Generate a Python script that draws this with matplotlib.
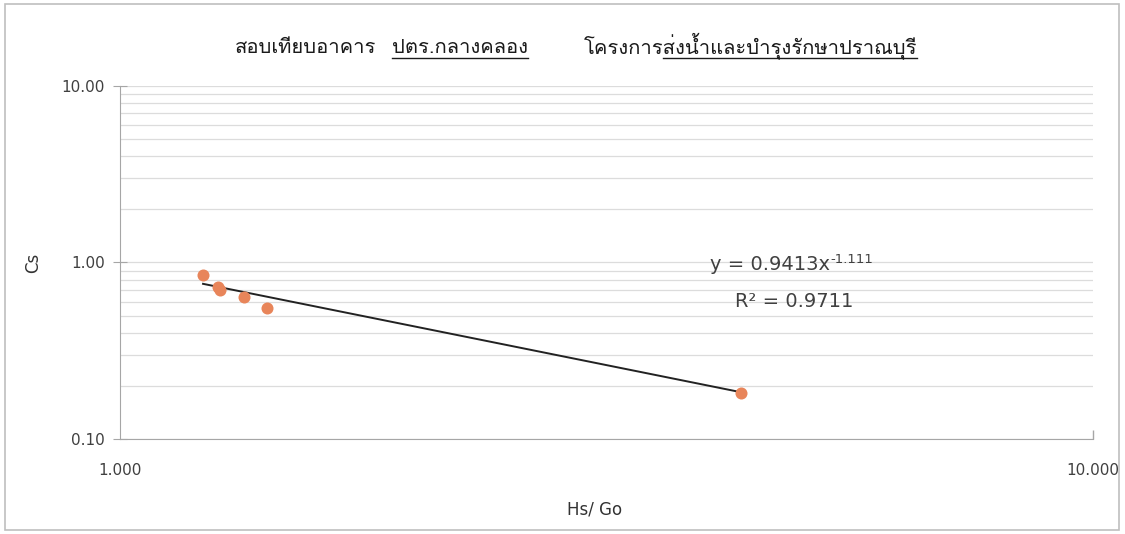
import numpy as np
import matplotlib
matplotlib.use("Agg")
import matplotlib.pyplot as plt
from matplotlib import font_manager
from matplotlib.ft2font import FT2Font
from matplotlib.patches import Rectangle
from matplotlib.lines import Line2D

# data
hs_go = [1.217, 1.262, 1.266, 1.341, 1.416, 4.347]
cs = [0.844, 0.728, 0.700, 0.641, 0.549, 0.183]
fit_a = 0.9413
fit_b = -1.111
r2 = 0.9711

title_1 = "สอบเทียบอาคาร"
title_2 = "ปตร.กลางคลอง"
title_3a = "โครงการ"
title_3b = "ส่งน้ำและบำรุงรักษาปราณบุรี"

# find a font that can draw Thai
thai_font = None
for f in font_manager.fontManager.ttflist:
    try:
        if 0x0E2A in FT2Font(f.fname).get_charmap():
            thai_font = f.name
            break
    except Exception:
        pass
fam = [thai_font, "DejaVu Sans"] if thai_font else ["DejaVu Sans"]

fig = plt.figure(figsize=(11.25, 5.34), dpi=100)
fig.patches.append(Rectangle((0.004, 0.008), 0.991, 0.985, transform=fig.transFigure,
                             fill=False, edgecolor="#bfbfbf", linewidth=1.2))
ax = fig.add_axes([0.1067, 0.178, 0.865, 0.661])

ax.set_xscale("log")
ax.set_yscale("log")
ax.set_xlim(1, 10)
ax.set_ylim(0.1, 10)

ax.grid(True, which="both", axis="y", color="#dcdcdc", linewidth=0.9)
ax.set_axisbelow(True)

xs = np.linspace(min(hs_go), max(hs_go), 50)
ax.plot(xs, fit_a * xs ** fit_b, color="#222222", linewidth=1.4, zorder=2)
ax.scatter(hs_go, cs, s=75, color="#E8855A", zorder=3, linewidths=0)

ax.set_xticks([1, 10])
ax.set_xticklabels(["1.000", "10.000"])
ax.xaxis.set_minor_locator(matplotlib.ticker.NullLocator())
ax.set_yticks([0.1, 1, 10])
ax.set_yticklabels(["0.10", "1.00", "10.00"])
ax.yaxis.set_minor_formatter(matplotlib.ticker.NullFormatter())
ax.tick_params(axis="y", which="minor", length=0)
ax.tick_params(axis="y", which="major", direction="inout", length=10, color="#a6a6a6",
               labelsize=11, labelcolor="#404040", pad=6)
ax.tick_params(axis="x", which="major", direction="in", length=0, color="#a6a6a6",
               labelsize=11, labelcolor="#404040", pad=17)

for s in ["top", "right"]:
    ax.spines[s].set_visible(False)
for s in ["left", "bottom"]:
    ax.spines[s].set_color("#a6a6a6")
ax.vlines(10, 0.1, 0.112, color="#a6a6a6", linewidth=1, clip_on=False)

ax.set_xlabel("Hs/ Go", fontsize=12, color="#333333")
ax.xaxis.set_label_coords(0.488, -0.175)
ax.set_ylabel("Cs", fontsize=12, color="#333333", labelpad=14)

fig.canvas.draw()
renderer = fig.canvas.get_renderer()

# trendline label, exponent as a separate small text
eq = ax.text(0.606, 0.493, "y = 0.9413x", transform=ax.transAxes,
             fontsize=14, color="#404040", va="center")
bb = eq.get_window_extent(renderer)
fig.text(bb.x1 + 1, bb.y1 - 4, "-1.111", transform=None, fontsize=9.5,
         color="#404040", va="center")
ax.text(0.632, 0.388, "R² = %.4f" % r2, transform=ax.transAxes,
        fontsize=14, color="#404040", va="center")

# title built piece by piece so parts can be underlined
base = 534 - 53
uline = 534 - 58
kw = dict(transform=None, fontsize=14.5, family=fam, color="#1a1a1a",
          va="baseline", ha="left")
t1 = fig.text(0, base, title_1, **kw)
t2 = fig.text(0, base, title_2, **kw)
t3 = fig.text(0, base, title_3a + title_3b, **kw)
tmp = fig.text(0, base, title_3a, **kw)
w1 = t1.get_window_extent(renderer).width
w2 = t2.get_window_extent(renderer).width
w3 = t3.get_window_extent(renderer).width
w3a = tmp.get_window_extent(renderer).width
tmp.remove()
gap1, gap2 = 16, 55
total = w1 + gap1 + w2 + gap2 + w3
x = 576 - total / 2
t1.set_x(x)
x += w1 + gap1
t2.set_x(x)
fig.add_artist(Line2D([x, x + w2], [uline, uline], transform=None, color="#1a1a1a", linewidth=1))
x += w2 + gap2
t3.set_x(x)
fig.add_artist(Line2D([x + w3a, x + w3], [uline, uline], transform=None, color="#1a1a1a", linewidth=1))

fig.savefig("out.png", dpi=100)
